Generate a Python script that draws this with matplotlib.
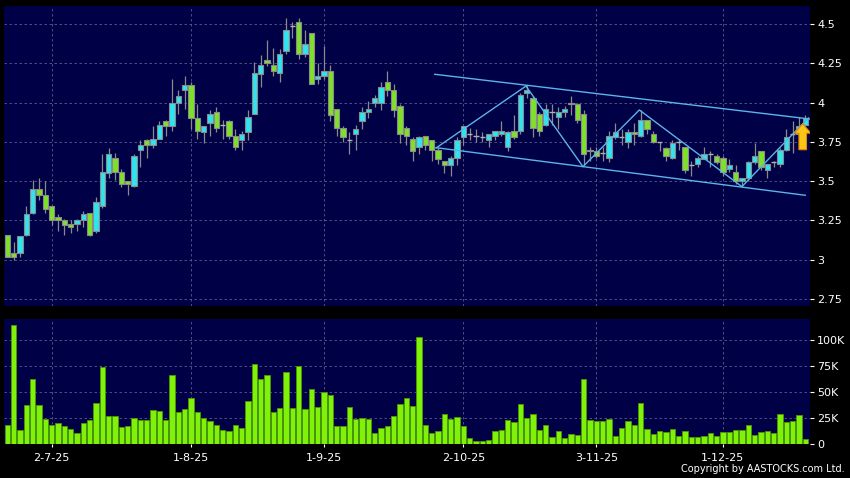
import matplotlib
matplotlib.use("Agg")
import matplotlib.pyplot as plt
from matplotlib.patches import FancyArrow
import numpy as np

# ---------------- data ----------------
opens = [3.16,3.04,3.04,3.16,3.30,3.45,3.41,3.34,3.27,3.25,3.23,3.23,3.25,3.30,3.18,3.34,3.55,3.65,3.56,3.50,
         3.47,3.70,3.76,3.73,3.77,3.88,3.85,4.00,4.08,4.11,3.90,3.81,3.87,3.94,3.86,3.88,3.79,3.76,3.81,3.93,
         4.18,4.27,4.24,4.19,4.33,4.49,4.51,4.31,4.44,4.15,4.17,4.20,3.96,3.84,3.76,3.80,3.88,3.94,4.00,4.00,
         4.13,4.08,3.98,3.84,3.77,3.72,3.79,3.76,3.70,3.63,3.60,3.65,3.78,3.80,3.79,3.78,3.76,3.79,3.80,3.72,
         3.82,3.82,4.06,4.03,3.93,3.86,3.94,3.91,3.94,3.99,3.99,3.93,3.70,3.69,3.68,3.65,3.78,3.78,3.75,3.81,
         3.79,3.89,3.80,3.75,3.71,3.65,3.75,3.72,3.60,3.61,3.64,3.67,3.66,3.65,3.58,3.56,3.50,3.52,3.62,3.69,
         3.57,3.62,3.61,3.70,3.80,3.80,3.86]
highs = [3.16,3.11,3.15,3.34,3.51,3.52,3.50,3.34,3.29,3.26,3.25,3.26,3.31,3.30,3.40,3.67,3.71,3.68,3.58,3.50,
         3.67,3.76,3.77,3.85,3.88,3.89,4.15,4.08,4.17,4.13,3.99,3.85,3.95,3.97,3.89,3.89,3.83,3.82,3.95,4.26,
         4.30,4.40,4.35,4.34,4.54,4.51,4.54,4.46,4.44,4.25,4.36,4.24,3.96,3.85,3.81,3.86,3.97,4.01,4.05,4.13,
         4.20,4.12,3.99,3.85,3.78,3.79,3.79,3.76,3.71,3.63,3.66,3.78,3.85,3.84,3.83,3.81,3.80,3.82,3.88,3.82,
         3.92,4.06,4.11,4.04,3.94,3.99,3.99,3.97,3.98,4.04,4.00,3.95,3.72,3.72,3.72,3.82,3.87,3.83,3.83,3.87,
         3.95,3.89,3.82,3.75,3.72,3.76,3.77,3.72,3.63,3.66,3.72,3.69,3.67,3.66,3.64,3.60,3.52,3.63,3.74,3.69,
         3.61,3.63,3.71,3.83,3.88,3.91,3.92]
lows = [3.02,3.00,3.02,3.15,3.29,3.38,3.30,3.22,3.18,3.16,3.17,3.18,3.21,3.15,3.17,3.33,3.52,3.51,3.46,3.41,
        3.46,3.59,3.65,3.71,3.77,3.79,3.82,3.93,3.96,3.83,3.77,3.74,3.79,3.81,3.77,3.77,3.70,3.70,3.76,3.93,
        4.10,4.23,4.17,4.13,4.31,4.41,4.28,4.29,4.12,4.12,4.15,3.88,3.79,3.75,3.67,3.70,3.83,3.90,3.97,3.95,
        4.04,3.91,3.74,3.73,3.63,3.67,3.70,3.63,3.61,3.55,3.53,3.60,3.73,3.76,3.75,3.75,3.72,3.76,3.79,3.69,
        3.77,3.80,4.03,3.78,3.79,3.85,3.86,3.83,3.91,3.92,3.87,3.60,3.63,3.65,3.63,3.62,3.77,3.73,3.71,3.73,
        3.78,3.80,3.74,3.69,3.63,3.64,3.70,3.55,3.53,3.59,3.64,3.59,3.61,3.53,3.56,3.48,3.46,3.50,3.61,3.57,
        3.52,3.59,3.59,3.69,3.68,3.79,3.85]
closes = [3.02,3.02,3.15,3.29,3.45,3.41,3.32,3.25,3.25,3.22,3.21,3.25,3.29,3.16,3.37,3.56,3.67,3.56,3.48,3.48,
          3.66,3.73,3.73,3.77,3.86,3.85,4.00,4.04,4.11,3.90,3.82,3.85,3.93,3.84,3.86,3.79,3.72,3.80,3.91,4.19,
          4.24,4.25,4.20,4.31,4.46,4.49,4.31,4.37,4.12,4.17,4.20,3.92,3.84,3.78,3.76,3.83,3.94,3.96,4.03,4.10,
          4.08,3.95,3.80,3.79,3.69,3.78,3.73,3.70,3.64,3.60,3.65,3.76,3.85,3.80,3.79,3.78,3.80,3.82,3.82,3.81,
          3.78,4.05,4.08,3.84,3.82,3.96,3.94,3.94,3.96,4.00,3.89,3.67,3.69,3.66,3.68,3.79,3.81,3.78,3.81,3.80,
          3.89,3.83,3.75,3.75,3.66,3.74,3.75,3.57,3.60,3.65,3.67,3.67,3.62,3.56,3.60,3.50,3.52,3.62,3.66,3.59,
          3.61,3.62,3.70,3.78,3.80,3.85,3.90]
volumes_k = [17.8,115,13.3,37.2,62.8,37.2,23.6,18.1,19.7,16.8,13.6,9.7,19.7,22.7,38.8,74.4,26.2,26.2,16.2,17.2,
             24.3,22.7,23.0,32.4,31.4,23.0,66.0,31.0,33.3,44.0,30.4,24.6,21.7,18.4,13.3,11.7,17.5,15.2,41.4,77.0,
             62.8,66.3,30.7,34.3,69.6,34.6,75.0,33.7,52.4,35.3,49.8,46.9,16.5,17.2,35.0,24.0,25.2,24.0,10.0,15.5,
             16.8,26.5,38.2,44.0,36.2,103.6,17.8,10.0,12.6,28.2,24.0,26.0,17.2,4.9,2.0,2.0,3.6,12.6,13.3,22.3,
             20.4,38.2,25.0,28.5,13.0,17.8,6.5,12.0,4.9,9.0,8.7,63.0,23.0,21.4,21.4,23.3,7.1,15.2,21.7,17.5,
             39.2,13.9,9.0,12.0,11.3,13.6,7.4,12.3,6.5,6.5,7.4,10.4,7.4,11.0,10.7,13.3,13.0,17.5,8.0,11.3,
             12.6,10.0,28.2,20.7,21.4,27.2,4.2]

date_tick_idx = [7, 29, 50, 72, 93, 113]
date_tick_labels = ["2-7-25", "1-8-25", "1-9-25", "2-10-25", "3-11-25", "1-12-25"]
price_ticks = [2.75, 3.0, 3.25, 3.5, 3.75, 4.0, 4.25, 4.5]
price_tick_labels = ["2.75", "3", "3.25", "3.5", "3.75", "4", "4.25", "4.5"]
vol_ticks = [0, 25, 50, 75, 100]
vol_tick_labels = ["0", "25K", "50K", "75K", "100K"]

# drawn trend annotations (bar index, price)
upper_channel = ([67.5, 127.0], [4.180, 3.894])
lower_channel = ([67.7, 126.0], [3.713, 3.410])
zigzag = ([67.7, 81.9, 90.9, 99.8, 116.0, 126.5], [3.711, 4.105, 3.592, 3.953, 3.465, 3.902])
arrow_idx, arrow_lo, arrow_hi = 125.6, 3.70, 3.865

# ---------------- style ----------------
BG = "#000000"
PANEL = "#000046"
UP = "#2fe3f0"
DOWN = "#7fe02a"
VOL = "#80f20a"
EDGE = "#8a8a8a"
GRID = "#5a5a8c"
TXT = "#ffffff"
TREND = "#5ab4e8"

fig = plt.figure(figsize=(8.5, 4.78), dpi=100, facecolor=BG)
ax = fig.add_axes([4/850, 1-306/478, 806/850, 300/478], facecolor=PANEL)
axv = fig.add_axes([4/850, 1-443.5/478, 806/850, 124.5/478], facecolor=PANEL)

n = len(opens)
x = np.arange(n)
o = np.array(opens); h = np.array(highs); l = np.array(lows); c = np.array(closes)

ax.vlines(x, l, h, color=EDGE, lw=0.9, zorder=2)
body_w = 0.82
up = c > o
down = c < o
doji = ~(up | down)
ax.bar(x[up], (c - o)[up], bottom=o[up], width=body_w, color=UP, edgecolor=EDGE, lw=0.8, zorder=3)
ax.bar(x[down], (o - c)[down], bottom=c[down], width=body_w, color=DOWN, edgecolor=EDGE, lw=0.8, zorder=3)
ax.hlines(c[doji], x[doji] - body_w/2, x[doji] + body_w/2, color="#b0b0b0", lw=1.0, zorder=3)

# trend lines
for xs, ys in (upper_channel, lower_channel, zigzag):
    ax.plot(xs, ys, color=TREND, lw=1.0, zorder=4)

ax.add_patch(FancyArrow(arrow_idx, arrow_lo, 0, arrow_hi - arrow_lo, width=1.2, head_width=2.6,
                        head_length=0.06, length_includes_head=True, facecolor="#f8c418",
                        edgecolor="#e08800", lw=0.8, zorder=5))

ax.set_xlim(-0.52, 126.75)
ax.set_ylim(2.7054, 4.6145)

axv.bar(x, volumes_k, width=0.84, color=VOL, edgecolor="#4a9a00", lw=0.6, zorder=3)
axv.set_xlim(-0.52, 126.75)
axv.set_ylim(0, 120.7)

for a in (ax, axv):
    for s in a.spines.values():
        s.set_visible(False)
    a.grid(True, color=GRID, lw=0.6, linestyle=(0, (3, 3)))
    a.set_axisbelow(True)
    a.set_xticks(date_tick_idx)
    a.yaxis.tick_right()
    a.tick_params(axis="y", direction="out", length=3, width=0.8, colors=TXT, labelsize=8, pad=2,
                  left=False, labelleft=False, right=True, labelright=True)

ax.set_yticks(price_ticks)
ax.set_yticklabels(price_tick_labels)
ax.tick_params(axis="x", bottom=False, labelbottom=False)

axv.set_yticks(vol_ticks)
axv.set_yticklabels(vol_tick_labels)
axv.set_xticklabels(date_tick_labels)
axv.tick_params(axis="x", direction="out", length=2, width=0.8, colors=TXT, labelsize=8, pad=5)

fig.text(0.994, 0.008, "Copyright by AASTOCKS.com Ltd.", ha="right", va="bottom", fontsize=7, color=TXT)

fig.savefig("out.png", dpi=100, facecolor=BG)
